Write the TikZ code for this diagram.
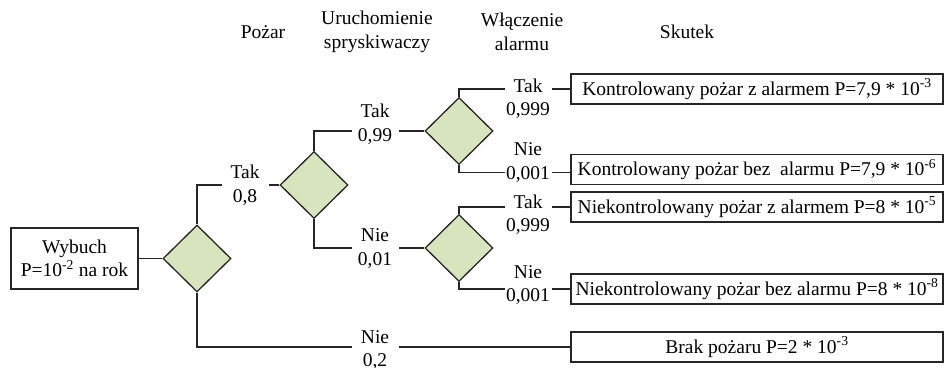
\documentclass[tikz,border=0pt]{standalone}
\usepackage{fontspec}
\setmainfont{Liberation Serif}
\usetikzlibrary{shapes.geometric}
\definecolor{dfill}{HTML}{D7E4BD}
\begin{document}
\begin{tikzpicture}[x=1pt,y=-1pt,
  every node/.style={font=\fontsize{19.5}{23.5}\selectfont},
  conn/.style={line width=1.3pt, draw=black!85},
  dia/.style={shape=diamond, draw=black!85, line width=1.3pt, fill=dfill, minimum width=68pt, minimum height=67pt, inner sep=0pt},
  outbox/.style={draw=black!85, line width=1.3pt, minimum width=372pt, minimum height=30pt, inner sep=0pt},
  lab/.style={fill=white, align=center, minimum width=47pt, inner sep=0pt},
  head/.style={align=center}]
\useasboundingbox (0,0) rectangle (945,367);
% headers
\node[head] (h1) at (263,32) {Pożar};
\node[head] (h2) at (377,32) {Uruchomienie\\spryskiwaczy};
\node[head] (h3) at (522,32) {Włączenie\\alarmu};
\node[head] (h4) at (687,32) {Skutek};
% start box
\node[draw=black!85, line width=1.3pt, minimum width=127pt, minimum height=61pt, inner sep=0pt, align=center] (wyb) at (74.5,258.5) {Wybuch\\P=10\textsuperscript{-2} na rok};
% diamonds
\node[dia] (d1) at (197,258.5) {};
\node[dia] (d2) at (314,185) {};
\node[dia] (d3) at (459,131) {};
\node[dia] (d4) at (459,248) {};
% outcome boxes
\node[outbox] (b1) at (757,89) {Kontrolowany pożar z alarmem P=7,9 * 10\textsuperscript{-3}};
\node[outbox] (b2) at (757,169.5) {Kontrolowany pożar bez\ \ alarmu P=7,9 * 10\textsuperscript{-6}};
\node[outbox] (b3) at (757,207) {Niekontrolowany pożar z alarmem P=8 * 10\textsuperscript{-5}};
\node[outbox] (b4) at (757,289) {Niekontrolowany pożar bez alarmu P=8 * 10\textsuperscript{-8}};
\node[outbox] (b5) at (757,347) {Brak pożaru P=2 * 10\textsuperscript{-3}};
% connectors
\draw[conn] (wyb.east) -- (d1.west);
\draw[conn] (d1.north) |- (d2.west);
\draw[conn] (d1.south) |- (b5.west);
\draw[conn] (d2.north) |- (d3.west);
\draw[conn] (d2.south) |- (d4.west);
\draw[conn] (d3.north) |- (b1.west);
\draw[conn] (d3.south) |- ([yshift=-3pt]b2.west);
\draw[conn] (d4.north) |- (b3.west);
\draw[conn] (d4.south) |- (b4.west);
% labels
\node[lab] (l1) at (245,185) {Tak\\0,8};
\node[lab] (l2) at (375,350) {Nie\\0,2};
\node[lab] (l3) at (375,124) {Tak\\0,99};
\node[lab] (l4) at (375,248.5) {Nie\\0,01};
\node[lab] (l5) at (528,98.5) {Tak\\0,999};
\node[lab] (l6) at (528,162.5) {Nie\\0,001};
\node[lab] (l7) at (528,214.5) {Tak\\0,999};
\node[lab] (l8) at (528,285) {Nie\\0,001};
\end{tikzpicture}
\end{document}
